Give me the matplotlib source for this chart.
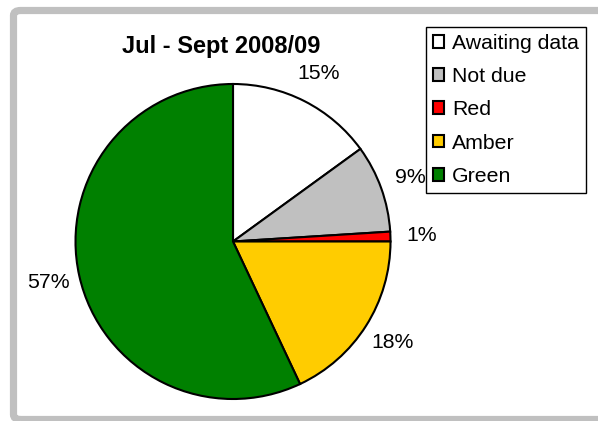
import matplotlib
matplotlib.use("Agg")
import matplotlib.pyplot as plt
from matplotlib.patches import FancyBboxPatch, Patch

plt.rcParams['font.family'] = ['Liberation Sans', 'DejaVu Sans']

title = "Jul - Sept 2008/09"
categories = ["Awaiting data", "Not due", "Red", "Amber", "Green"]
values = [15, 9, 1, 18, 57]
colors = ["#FFFFFF", "#C0C0C0", "#FF0000", "#FFCC00", "#008000"]

W, H = 598, 421
fig = plt.figure(figsize=(W / 100, H / 100), dpi=100)
fig.patch.set_facecolor("white")

# gray outer frame
frame = FancyBboxPatch((13.5 / W, 1.5 / H), (610 - 13.5) / W, (H - 10.5 - 1.5) / H,
                       boxstyle="round,pad=0,rounding_size=0.012",
                       transform=fig.transFigure, facecolor="none",
                       edgecolor="#C0C0C0", linewidth=5.2, zorder=-1)
fig.patches.append(frame)

ax = fig.add_axes([0, 0, 1, 1])
ax.patch.set_alpha(0)
cx, cy, R = 233, H - 241.5, 157.5
wedges, texts, autotexts = ax.pie(
    values, colors=colors, startangle=90, counterclock=False,
    center=(cx, cy), radius=R,
    autopct=lambda p: f"{p:.0f}%", pctdistance=1.2,
    wedgeprops=dict(edgecolor="black", linewidth=1.5),
    textprops=dict(fontsize=15.3, color="black"))
ax.set_xlim(0, W)
ax.set_ylim(0, H)
ax.set_aspect("equal")
ax.axis("off")

fig.text(221 / W, 1 - 47 / H, title, ha="center", va="center",
         fontsize=17, fontweight="bold")

handles = [Patch(facecolor=c, edgecolor="black", linewidth=1.5) for c in colors]
leg = fig.legend(handles, categories, loc="upper left",
                 bbox_to_anchor=(426 / W, 1 - 27 / H), frameon=True,
                 fancybox=False, edgecolor="black", framealpha=1,
                 fontsize=15.3, handlelength=0.55, handleheight=0.55,
                 handletextpad=0.35, labelspacing=0.67, borderpad=0.32,
                 borderaxespad=0)
leg.get_frame().set_linewidth(1.0)

fig.savefig("out.png", dpi=100)
